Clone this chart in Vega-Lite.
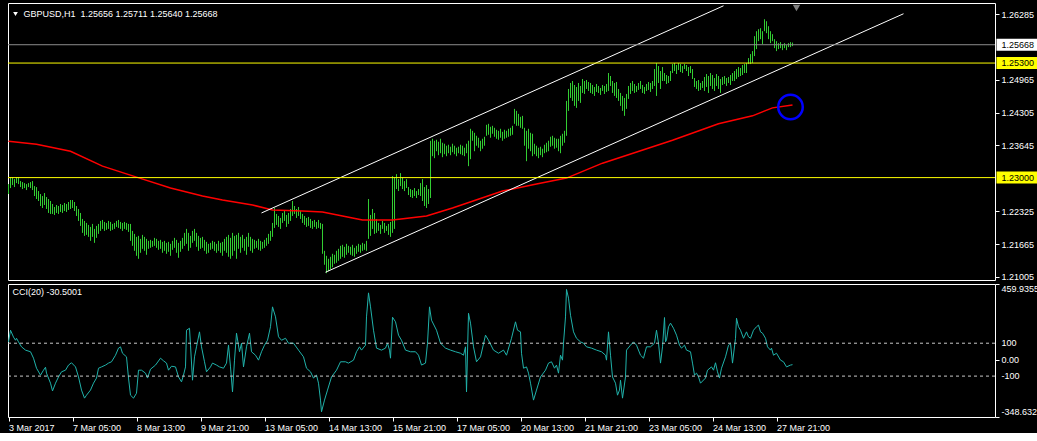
{
  "$schema": "https://vega.github.io/schema/vega-lite/v6.json",
  "background": "#000000",
  "padding": {"left": 5, "top": 2, "right": 0, "bottom": 0},
  "spacing": 4,
  "bounds": "flush",
  "config": {
    "view": {"stroke": "#ffffff", "strokeWidth": 1, "fill": "#000000"},
    "axis": {"labelFont": "Liberation Sans", "labelFontSize": 9, "labelColor": "#ffffff", "tickColor": "#ffffff", "domain": false, "grid": false, "labelOverlap": false},
    "text": {"font": "Liberation Sans", "fontSize": 9}
  },
  "datasets": {
    "bars": [
      {"i":0,"h":1.2287,"l":1.2267},{"i":1,"h":1.2301,"l":1.2279},{"i":2,"h":1.2301,"l":1.2285},{"i":3,"h":1.2297,"l":1.2281},{"i":4,"h":1.2301,"l":1.2289},{"i":5,"h":1.2301,"l":1.2287},{"i":6,"h":1.2293,"l":1.2281},{"i":7,"h":1.2291,"l":1.2277},{"i":8,"h":1.2289,"l":1.2279},{"i":9,"h":1.2287,"l":1.2275},
      {"i":10,"h":1.2289,"l":1.2281},{"i":11,"h":1.2291,"l":1.2279},{"i":12,"h":1.2293,"l":1.2275},{"i":13,"h":1.2283,"l":1.2263},{"i":14,"h":1.2281,"l":1.2257},{"i":15,"h":1.2273,"l":1.2253},{"i":16,"h":1.2267,"l":1.2243},{"i":17,"h":1.2263,"l":1.2239},{"i":18,"h":1.2269,"l":1.2245},{"i":19,"h":1.2261,"l":1.2237},
      {"i":20,"h":1.2257,"l":1.2229},{"i":21,"h":1.2253,"l":1.2227},{"i":22,"h":1.2247,"l":1.2227},{"i":23,"h":1.2241,"l":1.2225},{"i":24,"h":1.2245,"l":1.2229},{"i":25,"h":1.2243,"l":1.2227},{"i":26,"h":1.2247,"l":1.2231},{"i":27,"h":1.2245,"l":1.2229},{"i":28,"h":1.2249,"l":1.2233},{"i":29,"h":1.2247,"l":1.2231},
      {"i":30,"h":1.2251,"l":1.2235},{"i":31,"h":1.2255,"l":1.2237},{"i":32,"h":1.2255,"l":1.2239},{"i":33,"h":1.2251,"l":1.2233},{"i":34,"h":1.2243,"l":1.2223},{"i":35,"h":1.2237,"l":1.2213},{"i":36,"h":1.2229,"l":1.2203},{"i":37,"h":1.2217,"l":1.2189},{"i":38,"h":1.2213,"l":1.2183},{"i":39,"h":1.2209,"l":1.2185},
      {"i":40,"h":1.2205,"l":1.2181},{"i":41,"h":1.2201,"l":1.2173},{"i":42,"h":1.2207,"l":1.2181},{"i":43,"h":1.2197,"l":1.2169},{"i":44,"h":1.2203,"l":1.2179},{"i":45,"h":1.2207,"l":1.2187},{"i":46,"h":1.2213,"l":1.2193},{"i":47,"h":1.2215,"l":1.2197},{"i":48,"h":1.2211,"l":1.2193},{"i":49,"h":1.2209,"l":1.2195},
      {"i":50,"h":1.2213,"l":1.2197},{"i":51,"h":1.2211,"l":1.2193},{"i":52,"h":1.2207,"l":1.2195},{"i":53,"h":1.2209,"l":1.2197},{"i":54,"h":1.2213,"l":1.2201},{"i":55,"h":1.2215,"l":1.2199},{"i":56,"h":1.2211,"l":1.2197},{"i":57,"h":1.2209,"l":1.2193},{"i":58,"h":1.2211,"l":1.2197},{"i":59,"h":1.2209,"l":1.2195},
      {"i":60,"h":1.2207,"l":1.2191},{"i":61,"h":1.2207,"l":1.2173},{"i":62,"h":1.2193,"l":1.2163},{"i":63,"h":1.2187,"l":1.2153},{"i":64,"h":1.2181,"l":1.2143},{"i":65,"h":1.2183,"l":1.2137},{"i":66,"h":1.2177,"l":1.2149},{"i":67,"h":1.2185,"l":1.2157},{"i":68,"h":1.2181,"l":1.2153},{"i":69,"h":1.2177,"l":1.2145},
      {"i":70,"h":1.2173,"l":1.2157},{"i":71,"h":1.2175,"l":1.2159},{"i":72,"h":1.2173,"l":1.2161},{"i":73,"h":1.2179,"l":1.2163},{"i":74,"h":1.2177,"l":1.2159},{"i":75,"h":1.2173,"l":1.2155},{"i":76,"h":1.2175,"l":1.2157},{"i":77,"h":1.2171,"l":1.2149},{"i":78,"h":1.2173,"l":1.2153},{"i":79,"h":1.2169,"l":1.2147},
      {"i":80,"h":1.2171,"l":1.2151},{"i":81,"h":1.2167,"l":1.2143},{"i":82,"h":1.2173,"l":1.2155},{"i":83,"h":1.2179,"l":1.2159},{"i":84,"h":1.2175,"l":1.2149},{"i":85,"h":1.2169,"l":1.2139},{"i":86,"h":1.2173,"l":1.2151},{"i":87,"h":1.2179,"l":1.2157},{"i":88,"h":1.2189,"l":1.2163},{"i":89,"h":1.2197,"l":1.2167},
      {"i":90,"h":1.2189,"l":1.2153},{"i":91,"h":1.2183,"l":1.2159},{"i":92,"h":1.2193,"l":1.2169},{"i":93,"h":1.2197,"l":1.2173},{"i":94,"h":1.2189,"l":1.2161},{"i":95,"h":1.2183,"l":1.2153},{"i":96,"h":1.2179,"l":1.2157},{"i":97,"h":1.2181,"l":1.2159},{"i":98,"h":1.2175,"l":1.2153},{"i":99,"h":1.2171,"l":1.2147},
      {"i":100,"h":1.2167,"l":1.2149},{"i":101,"h":1.2169,"l":1.2155},{"i":102,"h":1.2173,"l":1.2157},{"i":103,"h":1.2171,"l":1.2153},{"i":104,"h":1.2167,"l":1.2149},{"i":105,"h":1.2173,"l":1.2153},{"i":106,"h":1.2169,"l":1.2149},{"i":107,"h":1.2171,"l":1.2143},{"i":108,"h":1.2177,"l":1.2153},{"i":109,"h":1.2181,"l":1.2149},
      {"i":110,"h":1.2185,"l":1.2141},{"i":111,"h":1.2179,"l":1.2137},{"i":112,"h":1.2189,"l":1.2143},{"i":113,"h":1.2183,"l":1.2153},{"i":114,"h":1.2185,"l":1.2137},{"i":115,"h":1.2189,"l":1.2157},{"i":116,"h":1.2181,"l":1.2149},{"i":117,"h":1.2185,"l":1.2159},{"i":118,"h":1.2177,"l":1.2153},{"i":119,"h":1.2181,"l":1.2145},
      {"i":120,"h":1.2189,"l":1.2161},{"i":121,"h":1.2181,"l":1.2153},{"i":122,"h":1.2177,"l":1.2149},{"i":123,"h":1.2175,"l":1.2157},{"i":124,"h":1.2173,"l":1.2159},{"i":125,"h":1.2177,"l":1.2155},{"i":126,"h":1.2173,"l":1.2153},{"i":127,"h":1.2171,"l":1.2157},{"i":128,"h":1.2175,"l":1.2159},{"i":129,"h":1.2179,"l":1.2163},
      {"i":130,"h":1.2187,"l":1.2167},{"i":131,"h":1.2193,"l":1.2173},{"i":132,"h":1.2209,"l":1.2181},{"i":133,"h":1.2239,"l":1.2199},{"i":134,"h":1.2227,"l":1.2205},{"i":135,"h":1.2223,"l":1.2201},{"i":136,"h":1.2219,"l":1.2197},{"i":137,"h":1.2229,"l":1.2209},{"i":138,"h":1.2233,"l":1.2213},{"i":139,"h":1.2225,"l":1.2201},
      {"i":140,"h":1.2229,"l":1.2207},{"i":141,"h":1.2237,"l":1.2213},{"i":142,"h":1.2253,"l":1.2223},{"i":143,"h":1.2243,"l":1.2227},{"i":144,"h":1.2237,"l":1.2219},{"i":145,"h":1.2241,"l":1.2223},{"i":146,"h":1.2233,"l":1.2217},{"i":147,"h":1.2227,"l":1.2209},{"i":148,"h":1.2223,"l":1.2205},{"i":149,"h":1.2219,"l":1.2201},
      {"i":150,"h":1.2221,"l":1.2203},{"i":151,"h":1.2217,"l":1.2199},{"i":152,"h":1.2213,"l":1.2197},{"i":153,"h":1.2215,"l":1.2201},{"i":154,"h":1.2211,"l":1.2197},{"i":155,"h":1.2215,"l":1.2199},{"i":156,"h":1.2209,"l":1.2197},{"i":157,"h":1.2207,"l":1.2147},{"i":158,"h":1.2153,"l":1.2125},{"i":159,"h":1.2143,"l":1.2108},
      {"i":160,"h":1.2137,"l":1.2112},{"i":161,"h":1.2141,"l":1.2116},{"i":162,"h":1.2147,"l":1.2120},{"i":163,"h":1.2145,"l":1.2127},{"i":164,"h":1.2153,"l":1.2129},{"i":165,"h":1.2157,"l":1.2133},{"i":166,"h":1.2163,"l":1.2137},{"i":167,"h":1.2165,"l":1.2141},{"i":168,"h":1.2161,"l":1.2139},{"i":169,"h":1.2167,"l":1.2145},
      {"i":170,"h":1.2163,"l":1.2149},{"i":171,"h":1.2161,"l":1.2145},{"i":172,"h":1.2165,"l":1.2143},{"i":173,"h":1.2159,"l":1.2141},{"i":174,"h":1.2163,"l":1.2147},{"i":175,"h":1.2167,"l":1.2151},{"i":176,"h":1.2165,"l":1.2149},{"i":177,"h":1.2169,"l":1.2153},{"i":178,"h":1.2167,"l":1.2155},{"i":179,"h":1.2173,"l":1.2153},
      {"i":180,"h":1.2257,"l":1.2177},{"i":181,"h":1.2225,"l":1.2183},{"i":182,"h":1.2237,"l":1.2197},{"i":183,"h":1.2229,"l":1.2187},{"i":184,"h":1.2217,"l":1.2189},{"i":185,"h":1.2209,"l":1.2193},{"i":186,"h":1.2205,"l":1.2187},{"i":187,"h":1.2213,"l":1.2197},{"i":188,"h":1.2209,"l":1.2189},{"i":189,"h":1.2203,"l":1.2193},
      {"i":190,"h":1.2207,"l":1.2185},{"i":191,"h":1.2211,"l":1.2181},{"i":192,"h":1.2303,"l":1.2189},{"i":193,"h":1.2301,"l":1.2197},{"i":194,"h":1.2307,"l":1.2277},{"i":195,"h":1.2297,"l":1.2273},{"i":196,"h":1.2309,"l":1.2283},{"i":197,"h":1.2301,"l":1.2277},{"i":198,"h":1.2293,"l":1.2273},{"i":199,"h":1.2297,"l":1.2279},
      {"i":200,"h":1.2281,"l":1.2265},{"i":201,"h":1.2277,"l":1.2261},{"i":202,"h":1.2275,"l":1.2259},{"i":203,"h":1.2279,"l":1.2263},{"i":204,"h":1.2273,"l":1.2259},{"i":205,"h":1.2277,"l":1.2265},{"i":206,"h":1.2289,"l":1.2263},{"i":207,"h":1.2297,"l":1.2253},{"i":208,"h":1.2281,"l":1.2243},{"i":209,"h":1.2285,"l":1.2239},
      {"i":210,"h":1.2277,"l":1.2247},{"i":211,"h":1.2374,"l":1.2259},{"i":212,"h":1.2378,"l":1.2343},{"i":213,"h":1.2374,"l":1.2339},{"i":214,"h":1.2376,"l":1.2353},{"i":215,"h":1.2372,"l":1.2345},{"i":216,"h":1.2378,"l":1.2349},{"i":217,"h":1.2370,"l":1.2341},{"i":218,"h":1.2368,"l":1.2347},{"i":219,"h":1.2364,"l":1.2343},
      {"i":220,"h":1.2366,"l":1.2349},{"i":221,"h":1.2362,"l":1.2345},{"i":222,"h":1.2368,"l":1.2351},{"i":223,"h":1.2364,"l":1.2347},{"i":224,"h":1.2360,"l":1.2343},{"i":225,"h":1.2362,"l":1.2349},{"i":226,"h":1.2366,"l":1.2347},{"i":227,"h":1.2364,"l":1.2345},{"i":228,"h":1.2360,"l":1.2343},{"i":229,"h":1.2368,"l":1.2349},
      {"i":230,"h":1.2374,"l":1.2323},{"i":231,"h":1.2398,"l":1.2337},{"i":232,"h":1.2394,"l":1.2374},{"i":233,"h":1.2390,"l":1.2353},{"i":234,"h":1.2384,"l":1.2364},{"i":235,"h":1.2380,"l":1.2360},{"i":236,"h":1.2374,"l":1.2353},{"i":237,"h":1.2378,"l":1.2358},{"i":238,"h":1.2382,"l":1.2364},{"i":239,"h":1.2406,"l":1.2384},
      {"i":240,"h":1.2408,"l":1.2386},{"i":241,"h":1.2402,"l":1.2380},{"i":242,"h":1.2404,"l":1.2388},{"i":243,"h":1.2400,"l":1.2382},{"i":244,"h":1.2396,"l":1.2378},{"i":245,"h":1.2394,"l":1.2376},{"i":246,"h":1.2398,"l":1.2380},{"i":247,"h":1.2392,"l":1.2374},{"i":248,"h":1.2396,"l":1.2378},{"i":249,"h":1.2394,"l":1.2380},
      {"i":250,"h":1.2398,"l":1.2382},{"i":251,"h":1.2400,"l":1.2384},{"i":252,"h":1.2404,"l":1.2386},{"i":253,"h":1.2438,"l":1.2408},{"i":254,"h":1.2434,"l":1.2404},{"i":255,"h":1.2428,"l":1.2404},{"i":256,"h":1.2422,"l":1.2400},{"i":257,"h":1.2424,"l":1.2398},{"i":258,"h":1.2400,"l":1.2364},{"i":259,"h":1.2394,"l":1.2333},
      {"i":260,"h":1.2398,"l":1.2358},{"i":261,"h":1.2390,"l":1.2353},{"i":262,"h":1.2388,"l":1.2343},{"i":263,"h":1.2368,"l":1.2347},{"i":264,"h":1.2364,"l":1.2343},{"i":265,"h":1.2360,"l":1.2339},{"i":266,"h":1.2362,"l":1.2345},{"i":267,"h":1.2358,"l":1.2341},{"i":268,"h":1.2366,"l":1.2349},{"i":269,"h":1.2370,"l":1.2351},
      {"i":270,"h":1.2374,"l":1.2353},{"i":271,"h":1.2382,"l":1.2362},{"i":272,"h":1.2384,"l":1.2364},{"i":273,"h":1.2380,"l":1.2358},{"i":274,"h":1.2378,"l":1.2360},{"i":275,"h":1.2378,"l":1.2353},{"i":276,"h":1.2384,"l":1.2349},{"i":277,"h":1.2388,"l":1.2364},{"i":278,"h":1.2394,"l":1.2370},{"i":279,"h":1.2454,"l":1.2384},
      {"i":280,"h":1.2478,"l":1.2434},{"i":281,"h":1.2490,"l":1.2460},{"i":282,"h":1.2494,"l":1.2454},{"i":283,"h":1.2486,"l":1.2444},{"i":284,"h":1.2482,"l":1.2440},{"i":285,"h":1.2490,"l":1.2454},{"i":286,"h":1.2484,"l":1.2450},{"i":287,"h":1.2498,"l":1.2470},{"i":288,"h":1.2494,"l":1.2468},{"i":289,"h":1.2496,"l":1.2478},
      {"i":290,"h":1.2492,"l":1.2474},{"i":291,"h":1.2490,"l":1.2470},{"i":292,"h":1.2486,"l":1.2468},{"i":293,"h":1.2482,"l":1.2464},{"i":294,"h":1.2488,"l":1.2472},{"i":295,"h":1.2484,"l":1.2470},{"i":296,"h":1.2480,"l":1.2466},{"i":297,"h":1.2486,"l":1.2474},{"i":298,"h":1.2484,"l":1.2468},{"i":299,"h":1.2488,"l":1.2472},
      {"i":300,"h":1.2510,"l":1.2474},{"i":301,"h":1.2504,"l":1.2484},{"i":302,"h":1.2494,"l":1.2470},{"i":303,"h":1.2490,"l":1.2464},{"i":304,"h":1.2492,"l":1.2460},{"i":305,"h":1.2478,"l":1.2454},{"i":306,"h":1.2470,"l":1.2444},{"i":307,"h":1.2464,"l":1.2434},{"i":308,"h":1.2460,"l":1.2424},{"i":309,"h":1.2468,"l":1.2438},
      {"i":310,"h":1.2484,"l":1.2458},{"i":311,"h":1.2490,"l":1.2468},{"i":312,"h":1.2494,"l":1.2474},{"i":313,"h":1.2488,"l":1.2470},{"i":314,"h":1.2484,"l":1.2472},{"i":315,"h":1.2490,"l":1.2476},{"i":316,"h":1.2494,"l":1.2478},{"i":317,"h":1.2486,"l":1.2470},{"i":318,"h":1.2482,"l":1.2468},{"i":319,"h":1.2488,"l":1.2474},
      {"i":320,"h":1.2492,"l":1.2476},{"i":321,"h":1.2490,"l":1.2472},{"i":322,"h":1.2494,"l":1.2478},{"i":323,"h":1.2518,"l":1.2484},{"i":324,"h":1.2530,"l":1.2464},{"i":325,"h":1.2524,"l":1.2490},{"i":326,"h":1.2514,"l":1.2478},{"i":327,"h":1.2522,"l":1.2494},{"i":328,"h":1.2510,"l":1.2494},{"i":329,"h":1.2506,"l":1.2488},
      {"i":330,"h":1.2504,"l":1.2490},{"i":331,"h":1.2514,"l":1.2494},{"i":332,"h":1.2528,"l":1.2510},{"i":333,"h":1.2530,"l":1.2514},{"i":334,"h":1.2526,"l":1.2508},{"i":335,"h":1.2530,"l":1.2516},{"i":336,"h":1.2528,"l":1.2512},{"i":337,"h":1.2524,"l":1.2510},{"i":338,"h":1.2528,"l":1.2518},{"i":339,"h":1.2526,"l":1.2514},
      {"i":340,"h":1.2522,"l":1.2504},{"i":341,"h":1.2524,"l":1.2510},{"i":342,"h":1.2518,"l":1.2498},{"i":343,"h":1.2500,"l":1.2482},{"i":344,"h":1.2494,"l":1.2478},{"i":345,"h":1.2496,"l":1.2474},{"i":346,"h":1.2490,"l":1.2476},{"i":347,"h":1.2494,"l":1.2480},{"i":348,"h":1.2502,"l":1.2474},{"i":349,"h":1.2508,"l":1.2482},
      {"i":350,"h":1.2504,"l":1.2470},{"i":351,"h":1.2510,"l":1.2484},{"i":352,"h":1.2506,"l":1.2478},{"i":353,"h":1.2500,"l":1.2474},{"i":354,"h":1.2508,"l":1.2484},{"i":355,"h":1.2504,"l":1.2478},{"i":356,"h":1.2498,"l":1.2470},{"i":357,"h":1.2502,"l":1.2486},{"i":358,"h":1.2504,"l":1.2488},{"i":359,"h":1.2500,"l":1.2484},
      {"i":360,"h":1.2502,"l":1.2490},{"i":361,"h":1.2506,"l":1.2486},{"i":362,"h":1.2510,"l":1.2494},{"i":363,"h":1.2514,"l":1.2494},{"i":364,"h":1.2518,"l":1.2498},{"i":365,"h":1.2522,"l":1.2502},{"i":366,"h":1.2520,"l":1.2504},{"i":367,"h":1.2526,"l":1.2506},{"i":368,"h":1.2528,"l":1.2510},{"i":369,"h":1.2530,"l":1.2510},
      {"i":370,"h":1.2540,"l":1.2528},{"i":371,"h":1.2548,"l":1.2528},{"i":372,"h":1.2554,"l":1.2530},{"i":373,"h":1.2584,"l":1.2544},{"i":374,"h":1.2594,"l":1.2558},{"i":375,"h":1.2598,"l":1.2574},{"i":376,"h":1.2600,"l":1.2578},{"i":377,"h":1.2594,"l":1.2568},{"i":378,"h":1.2618,"l":1.2594},{"i":379,"h":1.2614,"l":1.2590},
      {"i":380,"h":1.2604,"l":1.2578},{"i":381,"h":1.2594,"l":1.2570},{"i":382,"h":1.2588,"l":1.2574},{"i":383,"h":1.2578,"l":1.2560},{"i":384,"h":1.2574,"l":1.2554},{"i":385,"h":1.2570,"l":1.2558},{"i":386,"h":1.2572,"l":1.2560},{"i":387,"h":1.2568,"l":1.2556},{"i":388,"h":1.2570,"l":1.2560},{"i":389,"h":1.2566,"l":1.2556},
      {"i":390,"h":1.2570,"l":1.2562},{"i":391,"h":1.2572,"l":1.2562},{"i":392,"h":1.25711,"l":1.2564}
    ],
    "ma": [
      {"i":0,"p":1.2373},{"i":14,"p":1.2367},{"i":31,"p":1.2353},{"i":47,"p":1.2323},{"i":64,"p":1.2301},{"i":81,"p":1.2279},{"i":97,"p":1.2263},{"i":107,"p":1.2255},{"i":122,"p":1.2245},{"i":132,"p":1.2235},{"i":147,"p":1.2233},{"i":157,"p":1.2231},{"i":172,"p":1.2219},{"i":177,"p":1.2215},{"i":192,"p":1.2215},{"i":209,"p":1.2223},{"i":222,"p":1.2239},{"i":247,"p":1.2273},{"i":264,"p":1.2287},{"i":279,"p":1.2299},{"i":297,"p":1.2329},{"i":332,"p":1.2375},{"i":355,"p":1.2408},{"i":372,"p":1.2424},{"i":382,"p":1.2440},{"i":392,"p":1.2446}
    ],
    "channel": [
      {"s":"upper","i":126.5,"p":1.2229},{"s":"upper","i":357.5,"p":1.2645},
      {"s":"lower","i":158.5,"p":1.2110},{"s":"lower","i":447.5,"p":1.2629}
    ],
    "tags": [
      {"p":1.25668,"t":"1.25668","bg":"#ffffff"},
      {"p":1.253,"t":"1.25300","bg":"#ffff00"},
      {"p":1.23,"t":"1.23000","bg":"#ffff00"}
    ],
    "ccilabels": [
      {"v":100,"t":"100"},
      {"v":0,"t":"0.00"},
      {"v":-100,"t":"-100"}
    ],
    "cci": [
      {"i":0,"v":108},{"i":1,"v":179},{"i":2.5,"v":137},{"i":3.5,"v":118},{"i":4,"v":130},{"i":5,"v":108},{"i":6.5,"v":78},{"i":8.5,"v":58},{"i":11,"v":48},{"i":12.5,"v":9},
      {"i":14,"v":-52},{"i":16,"v":-94},{"i":17.5,"v":-64},{"i":18.5,"v":-46},{"i":19,"v":-82},{"i":21,"v":-143},{"i":22,"v":-190},{"i":23.5,"v":-143},{"i":25,"v":-105},{"i":26.5,"v":-74},
      {"i":28.5,"v":-64},{"i":30,"v":-33},{"i":31.5,"v":-19},{"i":33.5,"v":-44},{"i":35,"v":-105},{"i":36.5,"v":-185},{"i":38,"v":-234},{"i":39,"v":-216},{"i":41,"v":-185},{"i":42.5,"v":-143},
      {"i":44,"v":-112},{"i":45,"v":-52},{"i":46.5,"v":-44},{"i":48.5,"v":-33},{"i":50,"v":-21},{"i":51.5,"v":-13},{"i":53.5,"v":27},{"i":55,"v":70},{"i":56,"v":78},{"i":57,"v":39},
      {"i":59,"v":17},{"i":60,"v":-112},{"i":61,"v":-216},{"i":62.5,"v":-234},{"i":64,"v":-204},{"i":65,"v":-64},{"i":66.5,"v":-64},{"i":68.5,"v":-82},{"i":69.5,"v":-112},{"i":71,"v":-58},
      {"i":73.5,"v":-33},{"i":76,"v":9},{"i":77.5,"v":-7},{"i":79,"v":-21},{"i":80,"v":-64},{"i":81.5,"v":-40},{"i":83.5,"v":-44},{"i":85,"v":-105},{"i":86.5,"v":-135},{"i":87.5,"v":-94},
      {"i":88.5,"v":-44},{"i":89,"v":179},{"i":90.5,"v":191},{"i":91,"v":88},{"i":92,"v":-125},{"i":93,"v":17},{"i":94,"v":78},{"i":95.5,"v":169},{"i":96.5,"v":78},{"i":98,"v":-13},
      {"i":99,"v":-74},{"i":101,"v":-44},{"i":102,"v":-21},{"i":104,"v":-33},{"i":105.5,"v":-44},{"i":107.5,"v":-52},{"i":109,"v":-21},{"i":110,"v":88},{"i":111,"v":-44},{"i":112,"v":-196},
      {"i":113,"v":-3},{"i":114,"v":161},{"i":115.5,"v":48},{"i":116.5,"v":100},{"i":117.5,"v":-44},{"i":119,"v":78},{"i":120.5,"v":161},{"i":121.5,"v":48},{"i":123.5,"v":27},{"i":125,"v":-3},
      {"i":126.5,"v":48},{"i":128,"v":88},{"i":129.5,"v":118},{"i":131,"v":200},{"i":132,"v":321},{"i":133.5,"v":260},{"i":135,"v":139},{"i":136.5,"v":118},{"i":138.5,"v":130},{"i":140,"v":100},
      {"i":142.5,"v":100},{"i":145,"v":58},{"i":147.5,"v":17},{"i":149,"v":-52},{"i":151,"v":-74},{"i":152.5,"v":-112},{"i":154,"v":-94},{"i":155,"v":-143},{"i":156,"v":-246},{"i":156.5,"v":-317},
      {"i":158,"v":-246},{"i":159.5,"v":-185},{"i":161.5,"v":-105},{"i":164,"v":-64},{"i":166,"v":-13},{"i":168.5,"v":-13},{"i":170,"v":-21},{"i":172.5,"v":-3},{"i":174,"v":48},{"i":175.5,"v":78},
      {"i":176.5,"v":58},{"i":178.5,"v":88},{"i":179,"v":260},{"i":180,"v":406},{"i":181,"v":321},{"i":182.5,"v":179},{"i":184,"v":70},{"i":186.5,"v":58},{"i":188.5,"v":70},{"i":189.5,"v":100},
      {"i":190.5,"v":58},{"i":191,"v":9},{"i":192,"v":258},{"i":193.5,"v":230},{"i":195,"v":149},{"i":196.5,"v":118},{"i":198.5,"v":58},{"i":201,"v":48},{"i":203.5,"v":48},{"i":205,"v":27},
      {"i":206.5,"v":-33},{"i":208.5,"v":-21},{"i":209.5,"v":100},{"i":210.5,"v":321},{"i":211.5,"v":240},{"i":214,"v":179},{"i":216,"v":100},{"i":218.5,"v":70},{"i":221,"v":58},{"i":223.5,"v":48},
      {"i":226,"v":39},{"i":227.5,"v":27},{"i":228.5,"v":78},{"i":229,"v":-196},{"i":230,"v":282},{"i":231,"v":222},{"i":232.5,"v":78},{"i":234,"v":-13},{"i":236,"v":17},{"i":238.5,"v":149},
      {"i":240,"v":118},{"i":242.5,"v":58},{"i":245,"v":39},{"i":247.5,"v":58},{"i":249,"v":27},{"i":251.5,"v":130},{"i":253.5,"v":230},{"i":254.5,"v":179},{"i":256,"v":169},{"i":256.5,"v":39},
      {"i":257.5,"v":-52},{"i":259,"v":-44},{"i":260,"v":-82},{"i":261,"v":-143},{"i":262.5,"v":-246},{"i":264,"v":-185},{"i":266,"v":-105},{"i":268.5,"v":-64},{"i":270,"v":-21},{"i":271.5,"v":-13},
      {"i":273,"v":-52},{"i":274,"v":-33},{"i":275,"v":-82},{"i":276,"v":27},{"i":277,"v":-3},{"i":277.5,"v":100},{"i":278.5,"v":260},{"i":279,"v":427},{"i":280,"v":374},{"i":281,"v":270},
      {"i":282.5,"v":169},{"i":284,"v":130},{"i":286,"v":108},{"i":287.5,"v":100},{"i":289,"v":78},{"i":291.5,"v":70},{"i":294,"v":58},{"i":296.5,"v":48},{"i":298.5,"v":27},{"i":299,"v":-3},
      {"i":300,"v":169},{"i":301,"v":27},{"i":302,"v":-105},{"i":303.5,"v":-143},{"i":304.5,"v":-216},{"i":305.5,"v":-185},{"i":306,"v":-125},{"i":307,"v":-234},{"i":308.5,"v":-105},{"i":309,"v":58},
      {"i":311,"v":88},{"i":312.5,"v":108},{"i":314,"v":88},{"i":316,"v":27},{"i":317.5,"v":9},{"i":319,"v":78},{"i":321,"v":78},{"i":323,"v":100},{"i":324,"v":179},{"i":325,"v":100},
      {"i":326,"v":-21},{"i":327,"v":78},{"i":328,"v":256},{"i":328.5,"v":108},{"i":329,"v":120},{"i":330,"v":200},{"i":331,"v":222},{"i":332.5,"v":191},{"i":334,"v":149},{"i":335.5,"v":88},
      {"i":336.5,"v":70},{"i":338,"v":88},{"i":339,"v":58},{"i":341,"v":48},{"i":342,"v":-21},{"i":343,"v":-94},{"i":344,"v":-82},{"i":345,"v":-105},{"i":346,"v":-143},{"i":348.5,"v":-112},
      {"i":349.5,"v":-64},{"i":351.5,"v":-44},{"i":352.5,"v":-64},{"i":353.5,"v":-19},{"i":354.5,"v":-74},{"i":355.5,"v":-112},{"i":356.5,"v":-52},{"i":358.5,"v":17},{"i":360,"v":88},{"i":361,"v":100},
      {"i":362,"v":-21},{"i":363.5,"v":130},{"i":364,"v":252},{"i":365,"v":200},{"i":366,"v":179},{"i":367.5,"v":130},{"i":369,"v":169},{"i":370,"v":139},{"i":371,"v":130},{"i":372.5,"v":179},
      {"i":374,"v":200},{"i":375,"v":210},{"i":376,"v":169},{"i":377,"v":161},{"i":378.5,"v":130},{"i":379.5,"v":78},{"i":381,"v":58},{"i":381.5,"v":70},{"i":382.5,"v":27},{"i":384,"v":39},
      {"i":386,"v":-3},{"i":387.5,"v":-13},{"i":389,"v":-44},{"i":391,"v":-33},{"i":392,"v":-30.5}
    ]
  },
  "vconcat": [
    {
      "width": 987,
      "height": 277,
      "layer": [
        {
          "data": {"name": "bars"},
          "mark": {"type": "rule", "color": "#32cd32", "strokeWidth": 1},
          "encoding": {
            "x": {"field": "i", "type": "quantitative", "scale": {"domain": [-0.25, 493.25], "nice": false, "zero": false}, "axis": null},
            "y": {"field": "h", "type": "quantitative", "scale": {"domain": [1.20944, 1.26506], "nice": false, "zero": false},
                  "axis": {"orient": "right", "title": null, "values": [1.21005, 1.21665, 1.22325, 1.23645, 1.24305, 1.24965, 1.26285], "labelExpr": "format(datum.value, '.5f')", "tickSize": 4, "labelPadding": 2, "labelOverlap": false}},
            "y2": {"field": "l"}
          }
        },
        {
          "data": {"name": "ma"},
          "mark": {"type": "line", "color": "#ff0000", "strokeWidth": 1.5},
          "encoding": {
            "x": {"field": "i", "type": "quantitative", "axis": null},
            "y": {"field": "p", "type": "quantitative"}
          }
        },
        {
          "data": {"name": "channel"},
          "mark": {"type": "line", "color": "#ffffff", "strokeWidth": 1},
          "encoding": {
            "x": {"field": "i", "type": "quantitative", "axis": null},
            "y": {"field": "p", "type": "quantitative"},
            "detail": {"field": "s"}
          }
        },
        {
          "data": {"values": [{}]},
          "mark": {"type": "rule", "color": "#ffff00", "strokeWidth": 1},
          "encoding": {"y": {"datum": 1.253}}
        },
        {
          "data": {"values": [{}]},
          "mark": {"type": "rule", "color": "#ffff00", "strokeWidth": 1},
          "encoding": {"y": {"datum": 1.23}}
        },
        {
          "data": {"values": [{}]},
          "mark": {"type": "rule", "color": "#8c8c8c", "strokeWidth": 1},
          "encoding": {"y": {"datum": 1.25668}}
        },
        {
          "data": {"name": "tags"},
          "mark": {"type": "tick", "orient": "horizontal", "size": 42, "thickness": 12, "opacity": 1},
          "encoding": {
            "x": {"datum": 504.5, "axis": null},
            "y": {"field": "p", "type": "quantitative"},
            "color": {"field": "bg", "type": "nominal", "scale": null}
          }
        },
        {
          "data": {"name": "tags"},
          "mark": {"type": "text", "align": "left", "baseline": "middle", "color": "#000000"},
          "encoding": {
            "x": {"datum": 496.5, "axis": null},
            "y": {"field": "p", "type": "quantitative"},
            "text": {"field": "t"}
          }
        },
        {
          "data": {"values": [{}]},
          "mark": {"type": "text", "align": "left", "baseline": "middle", "color": "#ffffff", "text": "GBPUSD,H1\u00a0 1.25656 1.25711 1.25640 1.25668"},
          "encoding": {
            "x": {"datum": 7.5, "axis": null},
            "y": {"datum": 1.26285}
          }
        },
        {
          "data": {"values": [{}]},
          "mark": {"type": "point", "shape": "triangle-down", "filled": true, "color": "#ffffff", "size": 22, "opacity": 1},
          "encoding": {
            "x": {"datum": 3.5, "axis": null},
            "y": {"datum": 1.26285}
          }
        },
        {
          "data": {"values": [{}]},
          "mark": {"type": "point", "shape": "triangle-down", "filled": true, "color": "#7f7f7f", "size": 55, "opacity": 1},
          "encoding": {
            "x": {"datum": 394, "axis": null},
            "y": {"datum": 1.26405}
          }
        },
        {
          "data": {"values": [{}]},
          "mark": {"type": "point", "shape": "circle", "filled": false, "color": "#0000ff", "strokeWidth": 2.5, "size": 600, "opacity": 1},
          "encoding": {
            "x": {"datum": 391, "axis": null},
            "y": {"datum": 1.24418}
          }
        }
      ]
    },
    {
      "width": 987,
      "height": 133,
      "layer": [
        {
          "data": {"name": "cci"},
          "mark": {"type": "line", "color": "#20b2aa", "strokeWidth": 1},
          "encoding": {
            "x": {"field": "i", "type": "quantitative", "scale": {"domain": [-0.25, 493.25], "nice": false, "zero": false},
                  "axis": {"orient": "bottom", "title": null, "values": [0, 32, 64, 96, 128, 160, 192, 224, 256, 288, 320, 352, 384],
                           "labelExpr": "['3 Mar 2017','7 Mar 05:00','8 Mar 13:00','9 Mar 21:00','13 Mar 05:00','14 Mar 13:00','15 Mar 21:00','17 Mar 05:00','20 Mar 13:00','21 Mar 21:00','23 Mar 05:00','24 Mar 13:00','27 Mar 21:00'][round(datum.value / 32)]",
                           "labelAlign": "left", "tickSize": 4, "labelPadding": 2, "labelOverlap": false, "labelFlush": false}},
            "y": {"field": "v", "type": "quantitative", "scale": {"domain": [-348.6323, 459.9355], "nice": false, "zero": false},
                  "axis": {"orient": "right", "title": null, "values": [-348.6323, -100, 0, 100, 459.9355], "labels": false, "tickSize": 4}}
          }
        },
        {
          "data": {"values": [{}]},
          "mark": {"type": "rule", "color": "#c8c8c8", "strokeWidth": 1, "strokeDash": [3, 3]},
          "encoding": {"y": {"datum": 100}}
        },
        {
          "data": {"values": [{}]},
          "mark": {"type": "rule", "color": "#c8c8c8", "strokeWidth": 1, "strokeDash": [3, 3]},
          "encoding": {"y": {"datum": -100}}
        },
        {
          "data": {"name": "ccilabels"},
          "mark": {"type": "text", "align": "left", "baseline": "middle", "color": "#ffffff"},
          "encoding": {
            "x": {"datum": 496.5},
            "y": {"field": "v", "type": "quantitative"},
            "text": {"field": "t"}
          }
        },
        {
          "data": {"values": [{}]},
          "mark": {"type": "text", "align": "left", "baseline": "top", "dy": 1, "color": "#ffffff", "text": "459.9355"},
          "encoding": {
            "x": {"datum": 496.5},
            "y": {"datum": 459.9355}
          }
        },
        {
          "data": {"values": [{}]},
          "mark": {"type": "text", "align": "left", "baseline": "bottom", "color": "#ffffff", "text": "-348.6323"},
          "encoding": {
            "x": {"datum": 496.5},
            "y": {"datum": -348.6323}
          }
        },
        {
          "data": {"values": [{}]},
          "mark": {"type": "text", "align": "left", "baseline": "middle", "color": "#ffffff", "text": "CCI(20) -30.5001"},
          "encoding": {
            "x": {"datum": 2},
            "y": {"datum": 411}
          }
        }
      ]
    }
  ]
}
